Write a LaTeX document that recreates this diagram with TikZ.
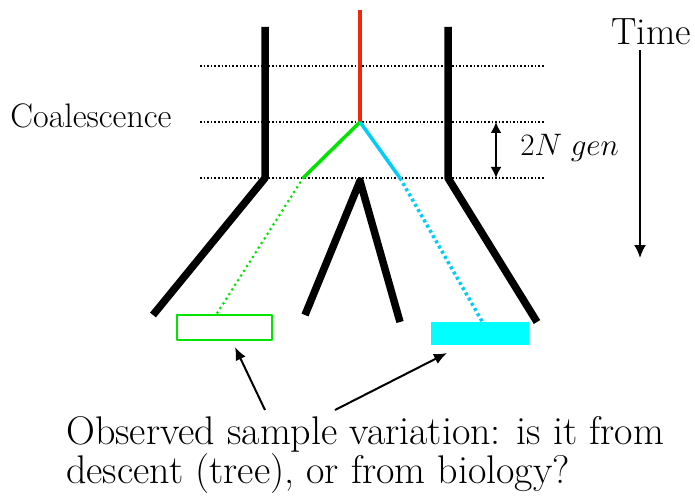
\documentclass[tikz,border=0pt]{standalone}
\usetikzlibrary{arrows.meta}
\definecolor{rootred}{RGB}{240,40,10}
\definecolor{lingreen}{RGB}{0,228,0}
\definecolor{lincyan}{RGB}{0,205,250}
\definecolor{boxcyan}{RGB}{0,255,255}
\tikzset{
  branch/.style={line width=7.5pt, black},
  genline/.style={black, line width=1.6pt, dotted},
  pointer/.style={-{Latex[length=13pt,width=11pt]}, line width=2pt}
}
\begin{document}
\begin{tikzpicture}[x=1pt, y=-1pt, line join=round]
\useasboundingbox (0,0) rectangle (695,497);
% Các điểm của cây phả hệ
\coordinate (LTop) at (265,27);
\coordinate (LKnee) at (265,178);
\coordinate (LEnd) at (153,315);
\coordinate (RTop) at (448,27);
\coordinate (RKnee) at (448,178);
\coordinate (REnd) at (537,322);
\coordinate (Root) at (360,10);
\coordinate (C) at (360,122); % điểm hội tụ
\coordinate (GKnee) at (303,178);
\coordinate (GEnd) at (216,315);
\coordinate (BKnee) at (400,178);
\coordinate (BEnd) at (483,323);
\coordinate (MTop) at (360,181);
\coordinate (MLeft) at (305,315);
\coordinate (MRight) at (400,322);

% 1. Các đường thế hệ nét chấm
\foreach \yy in {66,122,178}
  \draw[genline] (200,\yy) -- (545,\yy);

% 2. Các nhánh đen
\draw[branch] (LTop) -- (LKnee) -- (LEnd);
\draw[branch] (RTop) -- (RKnee) -- (REnd);
\draw[branch] (MLeft) -- (MTop) -- (MRight);

% 3. Dòng dõi màu
\draw[rootred, line width=3.5pt] (Root) -- (C);
\draw[lingreen, line width=3.5pt] (C) -- (GKnee);
\draw[lincyan, line width=3.5pt] (C) -- (BKnee);
\draw[lingreen, line width=3pt, line cap=round, dash pattern=on 0pt off 5.5pt] (GKnee) -- (GEnd);
\draw[lincyan, line width=3.5pt, dash pattern=on 3pt off 3pt] (BKnee) -- (BEnd);

% 4. Mẫu quan sát
\draw[lingreen, line width=2pt] (177,315) rectangle (272,340);
\fill[boxcyan] (431,322) rectangle (529,345);

% 5. Khoảng 2N thế hệ và trục thời gian
\coordinate (GenA) at (496,122);
\coordinate (GenB) at (496,178);
\draw[{Latex[length=11pt,width=11pt]}-{Latex[length=11pt,width=11pt]}, line width=2pt] (GenA) -- (GenB);
\node[anchor=west, inner sep=0pt, scale=1.25, font=\fontsize{24.88}{28}\selectfont] (gen) at (520,148) {$2N\;gen$};

\node[font=\fontsize{38}{40}\selectfont, inner sep=0pt] (time) at (651,32) {Time};
\coordinate (TimeEnd) at (640,258);
\draw[-{Latex[length=13pt,width=12pt]}, line width=2pt] (640,50) -- (TimeEnd);

\node[font=\fontsize{34}{36}\selectfont, inner sep=0pt] (coal) at (91,116) {Coalescence};

% 6. Câu hỏi và mũi tên chỉ
\node[anchor=north west, align=left, inner sep=0pt, font=\fontsize{40}{34}\selectfont] (question) at (66,416)
  {Observed sample variation: is it from\\descent (tree), or from biology?};
\coordinate (QA) at (265,410);
\coordinate (QB) at (335,410);
\coordinate (GBox) at (235,347);
\coordinate (CBox) at (447,353);
\draw[pointer] (QA) -- (GBox);
\draw[pointer] (QB) -- (CBox);
\end{tikzpicture}
\end{document}
